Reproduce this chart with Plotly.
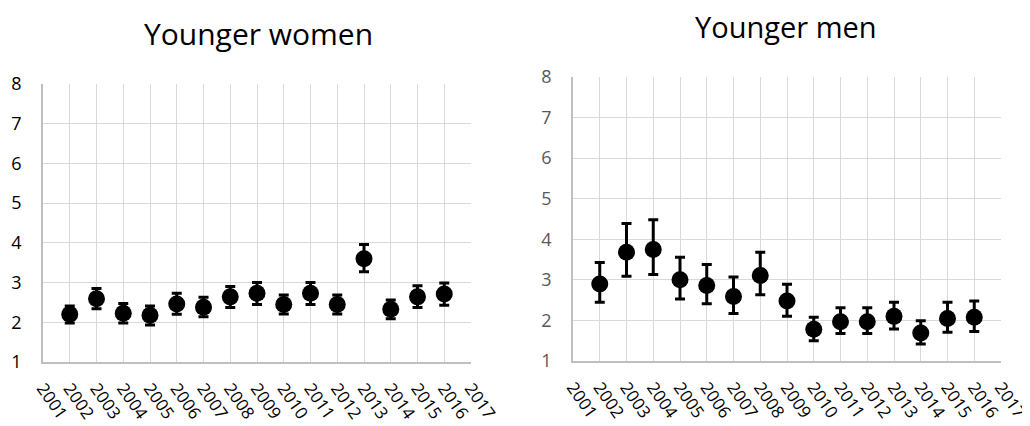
import plotly.graph_objects as go

years = [2002, 2003, 2004, 2005, 2006, 2007, 2008, 2009, 2010, 2011, 2012, 2013, 2014, 2015, 2016]
tick_years = list(range(2001, 2018))
y_ticks = [1, 2, 3, 4, 5, 6, 7, 8]

women_val = [2.20, 2.59, 2.23, 2.18, 2.46, 2.38, 2.64, 2.73, 2.45, 2.73, 2.45, 3.60, 2.33, 2.64, 2.71]
women_hi = [2.41, 2.85, 2.47, 2.41, 2.73, 2.63, 2.90, 3.00, 2.69, 3.00, 2.69, 3.96, 2.56, 2.92, 2.99]
women_lo = [1.98, 2.34, 1.98, 1.93, 2.20, 2.14, 2.37, 2.45, 2.21, 2.45, 2.21, 3.27, 2.09, 2.37, 2.43]

men_val = [2.90, 3.68, 3.75, 3.00, 2.86, 2.59, 3.11, 2.48, 1.78, 1.97, 1.97, 2.10, 1.69, 2.05, 2.08]
men_hi = [3.43, 4.39, 4.48, 3.56, 3.38, 3.07, 3.68, 2.89, 2.08, 2.31, 2.31, 2.45, 1.99, 2.45, 2.48]
men_lo = [2.45, 3.09, 3.13, 2.53, 2.41, 2.17, 2.63, 2.10, 1.50, 1.68, 1.68, 1.79, 1.42, 1.71, 1.73]

FONT = "Open Sans"
OFF = 8  # page body margin offset
W, H = 1030 - OFF, 426 - OFF

def px(v):
    return (v - OFF) / W

def py(v):
    return 1 - (v - OFF) / H

def trace(vals, hi, lo, xa, ya):
    return go.Scatter(
        x=years, y=vals, mode="markers", xaxis=xa, yaxis=ya,
        marker=dict(size=17, color="black"),
        error_y=dict(type="data", symmetric=False,
                     array=[h - v for h, v in zip(hi, vals)],
                     arrayminus=[v - l for v, l in zip(vals, lo)],
                     color="black", thickness=3, width=5),
        showlegend=False,
    )

fig = go.Figure()
fig.add_trace(trace(women_val, women_hi, women_lo, "x", "y"))
fig.add_trace(trace(men_val, men_hi, men_lo, "x2", "y2"))

def xaxis(domain, anchor):
    return dict(domain=domain, anchor=anchor, range=[2001, 2017],
                tickvals=tick_years, ticktext=[str(t) for t in tick_years],
                tickangle=55, showgrid=True, gridcolor="#d9d9d9", gridwidth=1,
                showline=True, linecolor="#bfbfbf", linewidth=1.5,
                zeroline=False, ticks="", ticklabelstandoff=8, automargin=False,
                ticklabeloverflow="allow",
                tickfont=dict(family=FONT, size=17, color="#000000"))

def yaxis(domain, anchor, color):
    return dict(domain=domain, anchor=anchor, range=[1, 8],
                tickvals=y_ticks, showgrid=True, gridcolor="#d9d9d9", gridwidth=1,
                showline=True, linecolor="#bfbfbf", linewidth=1.5,
                zeroline=False, ticks="", ticklabelstandoff=16, automargin=False,
                tickfont=dict(family=FONT, size=18, color=color))

fig.update_layout(
    width=W, height=H,
    margin=dict(l=0, r=0, t=0, b=0, autoexpand=False),
    paper_bgcolor="white", plot_bgcolor="white",
    xaxis=xaxis([px(43), px(471)], "y"),
    yaxis=yaxis([py(362), py(84)], "x", "#000000"),
    xaxis2=xaxis([px(573), px(1001)], "y2"),
    yaxis2=yaxis([py(361), py(77)], "x2", "#595959"),
    annotations=[
        dict(text="Younger women", x=px(258), y=py(33), xref="paper", yref="paper",
             showarrow=False, xanchor="center", yanchor="middle",
             font=dict(family=FONT, size=30, color="#000000")),
        dict(text="Younger men", x=px(786), y=py(27), xref="paper", yref="paper",
             showarrow=False, xanchor="center", yanchor="middle",
             font=dict(family=FONT, size=29, color="#000000")),
    ],
)

fig.write_html("out.html")
